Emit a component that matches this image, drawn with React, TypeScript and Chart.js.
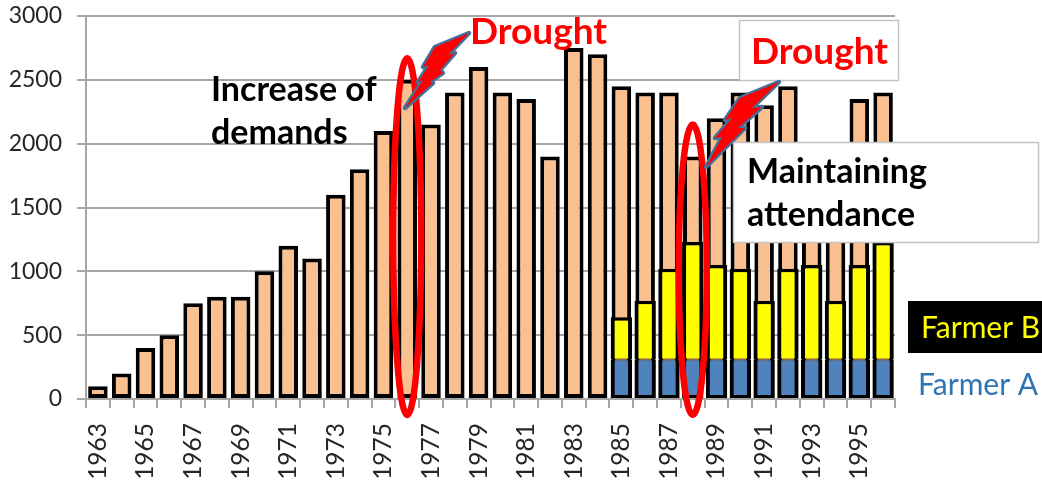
import React, { useEffect, useRef } from "react";
import { Chart, registerables } from "chart.js";

Chart.register(...registerables);

const years = [
  "1963", "1964", "1965", "1966", "1967", "1968", "1969", "1970", "1971", "1972", "1973", "1974",
  "1975", "1976", "1977", "1978", "1979", "1980", "1981", "1982", "1983", "1984", "1985", "1986",
  "1987", "1988", "1989", "1990", "1991", "1992", "1993", "1994", "1995", "1996",
];
const totalAttendance = [
  100, 200, 400, 500, 750, 800, 800, 1000, 1200, 1100, 1600, 1800,
  2100, 2500, 2150, 2400, 2600, 2400, 2350, 1900, 2750, 2700, 2450, 2400,
  2400, 1900, 2200, 2400, 2300, 2450, 1950, 2000, 2350, 2400,
];
const blank = years.slice(0, 22).map(() => null);
const farmerA = [...blank, 310, 310, 310, 310, 310, 310, 310, 310, 310, 310, 310, 310];
const farmerB = [...blank, 330, 460, 710, 920, 740, 710, 460, 710, 740, 460, 740, 920];

const droughtYears = [
  { year: "1976", high: 2670, low: -125 },
  { year: "1988", high: 2150, low: -125 },
];

const boltA = [
  [469, 33], [435, 47], [423, 67], [429, 65], [418, 82], [423, 80], [405, 108],
  [433, 83], [430, 82], [443, 73], [440, 70], [455, 53], [448, 55],
];
const boltB = [
  [779, 82], [740, 98], [725, 120], [732, 118], [715, 138], [722, 137], [706, 167],
  [745, 128], [738, 128], [762, 107], [752, 108],
];

const FONT = "Lato";
const GREY = "#A6A6A6";

function drawBolt(ctx: CanvasRenderingContext2D, pts: number[][]) {
  ctx.beginPath();
  pts.forEach(([x, y], i) => (i ? ctx.lineTo(x, y) : ctx.moveTo(x, y)));
  ctx.closePath();
  ctx.lineJoin = "round";
  ctx.lineWidth = 4.5;
  ctx.strokeStyle = "#41719C";
  ctx.stroke();
  ctx.fillStyle = "#FF0000";
  ctx.fill();
}

function label(ctx: CanvasRenderingContext2D, text: string, x: number, y: number, color: string, font: string) {
  ctx.font = font;
  ctx.fillStyle = color;
  ctx.textAlign = "left";
  ctx.textBaseline = "alphabetic";
  ctx.fillText(text, x, y);
}

function box(ctx: CanvasRenderingContext2D, x: number, y: number, w: number, h: number) {
  ctx.fillStyle = "#FFFFFF";
  ctx.fillRect(x, y, w, h);
  ctx.strokeStyle = "#C4C4C4";
  ctx.lineWidth = 1.5;
  ctx.strokeRect(x, y, w, h);
}

// Callouts laid over the bars: drought rings, bolts and text boxes.
const callouts = {
  id: "callouts",
  afterDatasetsDraw(chart: any) {
    const ctx: CanvasRenderingContext2D = chart.ctx;
    const { x: xs, y: ys } = chart.scales;
    ctx.save();

    const bold = `700 34px ${FONT}`;
    label(ctx, "Increase of", 211, 101, "#000000", bold);
    label(ctx, "demands", 211, 144, "#000000", bold);
    label(ctx, "Drought", 470, 44, "#FF0000", `700 37px ${FONT}`);

    box(ctx, 739.5, 20.5, 159, 60);
    label(ctx, "Drought", 751, 64, "#FF0000", `700 37px ${FONT}`);

    droughtYears.forEach((d) => {
      const top = ys.getPixelForValue(d.high);
      const bottom = ys.getPixelForValue(d.low);
      ctx.beginPath();
      ctx.ellipse(xs.getPixelForValue(d.year), (top + bottom) / 2, 14, (bottom - top) / 2, 0, 0, Math.PI * 2);
      ctx.strokeStyle = "#FF0000";
      ctx.lineWidth = 6.5;
      ctx.stroke();
    });

    drawBolt(ctx, boltA);
    drawBolt(ctx, boltB);

    box(ctx, 733.5, 142.5, 305, 100);
    label(ctx, "Maintaining", 747, 183, "#000000", bold);
    label(ctx, "attendance", 747, 226, "#000000", bold);

    ctx.fillStyle = "#000000";
    ctx.fillRect(908, 301, 134, 52);
    label(ctx, "Farmer B", 921, 338, "#FFFF00", `400 30px ${FONT}`);
    label(ctx, "Farmer A", 918, 395, "#2E75B6", `400 30px ${FONT}`);
    ctx.restore();
  },
};

export default function App() {
  const ref = useRef<HTMLCanvasElement | null>(null);

  useEffect(() => {
    document.body.style.margin = "0";
    const chart = new Chart(ref.current as HTMLCanvasElement, {
      type: "bar",
      plugins: [callouts],
      data: {
        labels: years,
        datasets: [
          {
            label: "Total",
            data: totalAttendance,
            stack: "total",
            grouped: false,
            order: 3,
            backgroundColor: "#FBC08F",
            borderColor: "#000000",
            borderWidth: 4,
            borderSkipped: false,
            barPercentage: 0.82,
            categoryPercentage: 1,
          },
          {
            label: "Farmer A",
            data: farmerA,
            stack: "farmers",
            grouped: false,
            order: 1,
            backgroundColor: "#4F81BD",
            borderColor: "#000000",
            borderWidth: { top: 1, left: 4, right: 4, bottom: 3 },
            borderSkipped: false,
            barPercentage: 0.9,
            categoryPercentage: 1,
          },
          {
            label: "Farmer B",
            data: farmerB,
            stack: "farmers",
            grouped: false,
            order: 2,
            backgroundColor: "#FFFF00",
            borderColor: "#000000",
            borderWidth: { top: 3.5, left: 4, right: 4, bottom: 1 },
            borderSkipped: false,
            barPercentage: 0.9,
            categoryPercentage: 1,
          },
        ],
      },
      options: {
        animation: false,
        responsive: false,
        layout: { padding: { top: 16, right: 147, left: 0, bottom: 0 } },
        plugins: { legend: { display: false }, tooltip: { enabled: false } },
        scales: {
          x: {
            stacked: true,
            grid: { drawOnChartArea: false, color: GREY, lineWidth: 2, tickLength: 9 },
            border: { color: GREY, width: 2 },
            ticks: {
              autoSkip: false,
              minRotation: 90,
              maxRotation: 90,
              padding: 15,
              color: "#262626",
              font: { family: FONT, size: 24.5 },
              callback: (_v: any, i: number) => (i % 2 === 0 ? years[i] : ""),
            },
            afterFit: (s: any) => {
              s.height = 82;
              s.paddingTop = 0;
              s.paddingBottom = 0;
            },
          },
          y: {
            stacked: true,
            min: 0,
            max: 3000,
            grid: { color: GREY, lineWidth: 2, tickLength: 9 },
            border: { color: GREY, width: 2 },
            ticks: {
              stepSize: 500,
              padding: 15,
              color: "#262626",
              font: { family: FONT, size: 23 },
              callback: (v: any) => String(v),
            },
            afterFit: (s: any) => {
              s.width = 86;
              s.paddingTop = 0;
              s.paddingBottom = 0;
            },
          },
        },
      },
    } as any);
    return () => chart.destroy();
  }, []);

  return (
    <div style={{ position: "fixed", left: 0, top: 0, width: 1042, height: 481 }}>
      <canvas ref={ref} width={1042} height={481} style={{ display: "block" }} />
    </div>
  );
}
